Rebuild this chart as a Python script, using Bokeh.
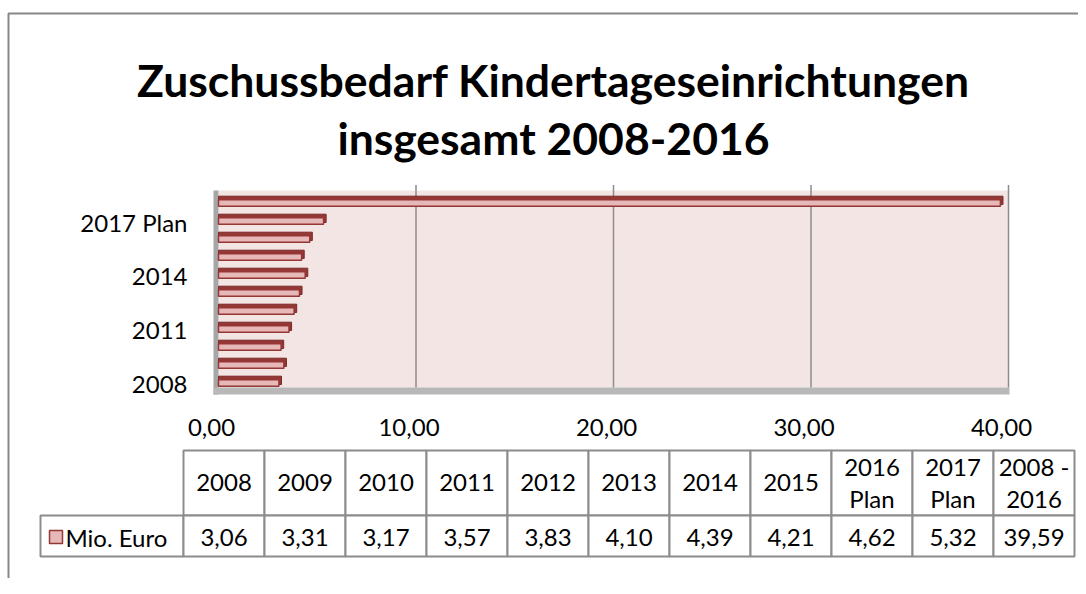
from bokeh.plotting import figure
from bokeh.models import Range1d, ColumnDataSource
from bokeh.transform import dodge
from bokeh.core.properties import value
from bokeh.embed import file_html
from bokeh.resources import INLINE

# ---------------- data ----------------
categories = ["2008", "2009", "2010", "2011", "2012", "2013", "2014", "2015",
              "2016 Plan", "2017 Plan", "2008 - 2016"]
values = [3.06, 3.31, 3.17, 3.57, 3.83, 4.10, 4.39, 4.21, 4.62, 5.32, 39.59]
series_name = "Mio. Euro"
table_headers = ["2008", "2009", "2010", "2011", "2012", "2013", "2014", "2015",
                 "2016\nPlan", "2017\nPlan", "2008 -\n2016"]
x_ticks = [0, 10, 20, 30, 40]
x_tick_labels = ["0,00", "10,00", "20,00", "30,00", "40,00"]
title_lines = ["Zuschussbedarf Kindertageseinrichtungen", "insgesamt 2008-2016"]

# ---------------- styling / geometry ----------------
FONT = "Lato"
FS = "24px"
BAR_FILL = "#e6b9b8"
BAR_DARK = "#953735"
GRID = "#8c8c8c"
BORDER = "#878787"

W, H = 1078, 578
X0, PPU = 218, 19.75   # canvas x of value 0, pixels per value unit
R0, PPR = 382, 18      # canvas y of first category row, pixels per row
C0, PPC = 183, 81      # canvas x of first table column, pixels per table column

p = figure(width=W, height=H, output_backend="svg", toolbar_location=None,
           x_range=Range1d(0, W), y_range=Range1d(H, 0),
           x_axis_location=None, y_axis_location=None, min_border=0,
           outline_line_color=None, background_fill_color="white",
           border_fill_color="white")
p.grid.visible = False
p.extra_x_ranges = {"val": Range1d(-X0 / PPU, (W - X0) / PPU),
                    "col": Range1d(-C0 / PPC, (W - C0) / PPC)}
p.extra_y_ranges = {"row": Range1d((R0 - H) / PPR, R0 / PPR)}

n = len(categories)
row_top = n - 1 + 0.667
row_bot = -0.667
floor_top = -0.28
xmax = x_ticks[-1]

# chart border (left and top edges are visible)
p.line(x=[8, 8, W], y=[H, 13, 13], line_color=BORDER, line_width=2)

# title
p.text(x=[553, 553], y=[79, 137], text=title_lines, text_align="center",
       text_baseline="alphabetic", text_font=value(FONT), text_font_style="bold",
       text_font_size=value("44.5px"), text_color="black")

# plot walls (3D look)
p.quad(left=0, right=xmax, bottom=floor_top, top=row_top, fill_color="#f4e5e5",
       line_color=None, x_range_name="val", y_range_name="row")
p.quad(left=-5 / PPU, right=0, bottom=row_bot, top=row_top, fill_color="#a6a6a6",
       line_color=None, x_range_name="val", y_range_name="row")
p.quad(left=-5 / PPU, right=xmax + 0.05, bottom=row_bot, top=floor_top,
       fill_color="#b8b8b8", line_color=None, x_range_name="val", y_range_name="row")

# gridlines
gx = x_ticks[1:]
p.segment(x0=gx, x1=gx, y0=floor_top, y1=row_top + 0.3, line_color=GRID,
          line_width=1.5, x_range_name="val", y_range_name="row")

# bars
src = ColumnDataSource(dict(y=list(range(n)), v=values, cat=categories))
p.hbar(y=dodge("y", 0.12), left=0, right=dodge("v", 0.13), height=0.46,
       fill_color=BAR_DARK, line_color="#7a2a28", line_width=1, source=src,
       x_range_name="val", y_range_name="row")
p.hbar(y=dodge("y", -0.03), left=0, right="v", height=0.36,
       fill_color=BAR_FILL, line_color=BAR_DARK, line_width=1.5, source=src,
       x_range_name="val", y_range_name="row")

# value axis labels
p.text(x=x_ticks, y=[row_bot] * len(x_ticks), text=x_tick_labels, text_align="center",
       text_baseline="middle", y_offset=33, x_offset=-7, text_font=value(FONT),
       text_font_size=value(FS), text_color="black",
       x_range_name="val", y_range_name="row")

# category axis labels (every third category)
label_idx = list(range(0, n, 3))
p.text(x=[-5 / PPU] * len(label_idx), y=label_idx,
       text=[categories[i] for i in label_idx], text_align="right",
       text_baseline="middle", x_offset=-26, y_offset=2, text_font=value(FONT),
       text_font_size=value(FS), text_color="black",
       x_range_name="val", y_range_name="row")

# ---------------- data table ----------------
cols = list(range(n))
p.quad(left=cols, right=[c + 1 for c in cols], top=450, bottom=515,
       fill_color="white", line_color=GRID, line_width=2, x_range_name="col")
leg_left = -(C0 - 40) / PPC
p.quad(left=[leg_left] + cols, right=[0] + [c + 1 for c in cols], top=515, bottom=556,
       fill_color="white", line_color=GRID, line_width=2, x_range_name="col")

centers = [c + 0.5 for c in cols]
p.text(x=centers, y=482, text=table_headers, text_align="center",
       text_baseline="middle", text_font=value(FONT), text_font_size=value(FS),
       text_line_height=1.1, text_color="black", x_range_name="col")
p.text(x=centers, y=537, text=[f"{v:.2f}".replace(".", ",") for v in values],
       text_align="center", text_baseline="middle", text_font=value(FONT),
       text_font_size=value(FS), text_color="black", x_range_name="col")

p.rect(x=[leg_left + 15.5 / PPC], y=[536.5], width=13 / PPC, height=13,
       fill_color=BAR_FILL, line_color=BAR_DARK, line_width=1.5, x_range_name="col")
p.text(x=[leg_left + 25 / PPC], y=[537], text=[series_name], text_align="left",
       text_baseline="middle", text_font=value(FONT), text_font_size=value(FS),
       text_color="black", x_range_name="col")

open("out.html", "w").write(file_html(p, INLINE))
